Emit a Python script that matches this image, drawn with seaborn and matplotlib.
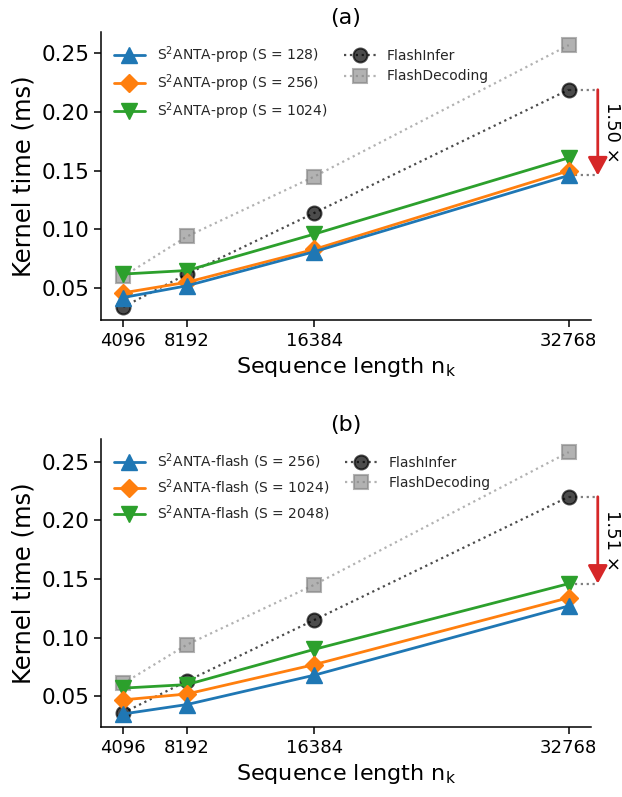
import numpy as np
import pandas as pd
import matplotlib
matplotlib.use("Agg")
import matplotlib.pyplot as plt
import seaborn as sns

# ---------------- data ----------------
seq_len = [4096, 8192, 16384, 32768]

# panel (a)
prop_labels = ["S$^2$ANTA-prop (S = 128)", "S$^2$ANTA-prop (S = 256)", "S$^2$ANTA-prop (S = 1024)"]
prop_s128 = [0.042, 0.052, 0.081, 0.146]
prop_s256 = [0.046, 0.055, 0.083, 0.150]
prop_s1024 = [0.062, 0.065, 0.096, 0.161]
flashinfer_a = [0.034, 0.062, 0.114, 0.219]
flashdecoding_a = [0.060, 0.094, 0.145, 0.257]

# panel (b)
flash_labels = ["S$^2$ANTA-flash (S = 256)", "S$^2$ANTA-flash (S = 1024)", "S$^2$ANTA-flash (S = 2048)"]
flash_s256 = [0.035, 0.043, 0.068, 0.127]
flash_s1024 = [0.047, 0.052, 0.077, 0.134]
flash_s2048 = [0.057, 0.060, 0.090, 0.146]
flashinfer_b = [0.036, 0.063, 0.115, 0.220]
flashdecoding_b = [0.061, 0.094, 0.145, 0.258]

panel_titles = ["(a)", "(b)"]
speedup_texts = ["1.50 ×", "1.51 ×"]
# which S2ANTA series the speedup arrow refers to (index into the three series)
speedup_ref_idx = [0, 2]

# ---------------- style ----------------
sns.set_theme(style="ticks")
plt.rcParams["font.family"] = ["DejaVu Sans"]
plt.rcParams["axes.linewidth"] = 1.1
plt.rcParams["xtick.major.size"] = 5
plt.rcParams["ytick.major.size"] = 5
plt.rcParams["xtick.major.width"] = 1.1
plt.rcParams["ytick.major.width"] = 1.1

colors = ["#1f77b4", "#ff7f0e", "#2ca02c"]
markers = ["^", "D", "v"]
msizes = [11, 9.5, 11]
red = "#d62728"

fig = plt.figure(figsize=(6.22, 7.97), dpi=100)
ax_a = fig.add_axes([0.1624, 0.5985, 0.7878, 0.3613])
ax_b = fig.add_axes([0.1624, 0.0878, 0.7878, 0.3613])

panels = [
    (ax_a, prop_labels, [prop_s128, prop_s256, prop_s1024], flashinfer_a, flashdecoding_a),
    (ax_b, flash_labels, [flash_s256, flash_s1024, flash_s2048], flashinfer_b, flashdecoding_b),
]

for p, (ax, labels, series, fi, fd) in enumerate(panels):
    for i, (lab, vals) in enumerate(zip(labels, series)):
        sns.lineplot(x=seq_len, y=vals, ax=ax, color=colors[i], marker=markers[i],
                     markersize=msizes[i], markeredgecolor=colors[i], markeredgewidth=1.0,
                     linewidth=2, label=lab, zorder=3.3 - 0.1 * i)
    sns.lineplot(x=seq_len, y=fi, ax=ax, color="black", marker="o", linestyle=":",
                 markersize=10, markeredgecolor="black", markeredgewidth=1.5,
                 linewidth=1.6, alpha=0.7, label="FlashInfer", zorder=2.2)
    sns.lineplot(x=seq_len, y=fd, ax=ax, color="gray", marker="s", linestyle=":",
                 markersize=10, markeredgecolor="gray", markeredgewidth=1.5,
                 linewidth=1.6, alpha=0.6, label="FlashDecoding", zorder=2.1)

    ax.set_xlim(ax.get_xlim())
    ax.set_ylim(ax.get_ylim())
    ax.set_xticks(seq_len)
    ax.set_xticklabels([str(v) for v in seq_len])
    ax.set_yticks([0.05, 0.10, 0.15, 0.20, 0.25])
    ax.tick_params(axis="x", labelsize=13, color="black", labelcolor="black")
    ax.tick_params(axis="y", labelsize=15.5, color="black", labelcolor="black")
    for s in ["left", "bottom"]:
        ax.spines[s].set_color("black")
    sns.despine(ax=ax)
    ax.set_xlabel("Sequence length n$_\\mathrm{k}$", fontsize=16, color="black")
    ax.set_ylabel("Kernel time (ms)", fontsize=17.5, color="black")
    ax.set_title(panel_titles[p], fontsize=16, color="black")

    # speedup annotation
    top = fi[-1]
    ref = series[speedup_ref_idx[p]][-1]
    x_last = seq_len[-1]
    x_arrow = x_last * 1.057
    ax.plot([x_last, x_arrow], [top, top], linestyle=":", color="gray", lw=1.6, clip_on=False, zorder=2)
    ax.plot([x_last, x_arrow], [ref, ref], linestyle=":", color="gray", lw=1.6, clip_on=False, zorder=2)
    ax.annotate("", xy=(x_arrow, ref), xytext=(x_arrow, top),
                arrowprops=dict(arrowstyle="-|>,head_width=0.3,head_length=0.55",
                                mutation_scale=20, color=red, lw=2, shrinkA=0, shrinkB=0),
                annotation_clip=False)
    ax.text(x_last * 1.085, (top + ref) / 2, speedup_texts[p], rotation=-90,
            ha="center", va="center", fontsize=13, color="black", clip_on=False)

    ax.legend(ncol=2, frameon=False, loc="upper left", fontsize=10,
              columnspacing=1.2, handlelength=2.3, handletextpad=0.8, labelspacing=0.45)

fig.savefig("out.png", dpi=100)
